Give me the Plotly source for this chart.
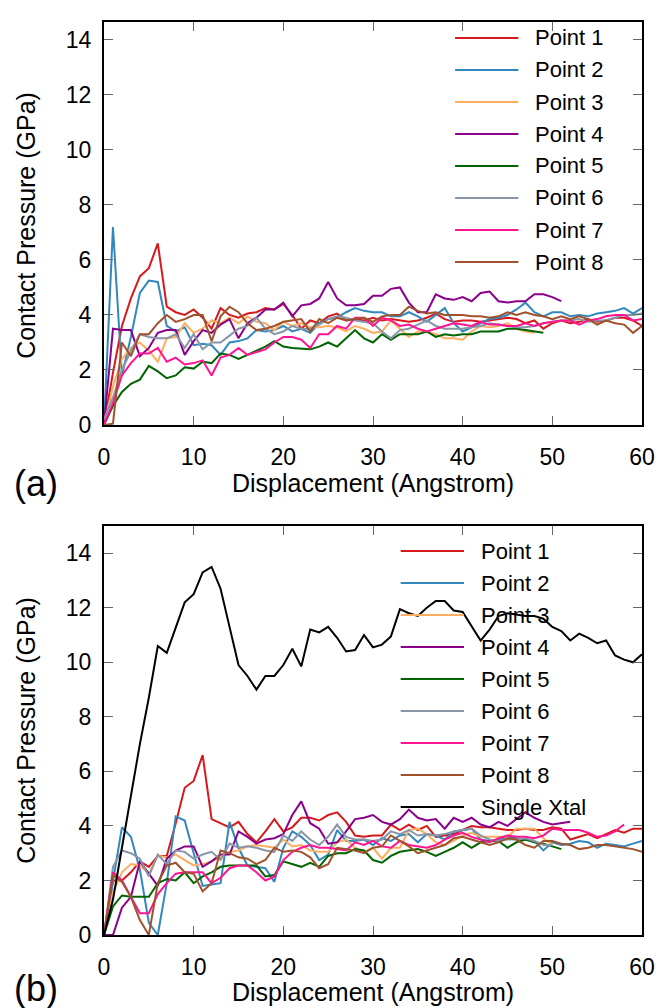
import plotly.graph_objects as go

FONT = "Liberation Sans, Arial, sans-serif"

DISPLACEMENT = list(range(61))
SERIES_NAMES = ["Point 1", "Point 2", "Point 3", "Point 4", "Point 5", "Point 6", "Point 7", "Point 8"]
XTAL_NAME = "Single Xtal"
COLORS = ["#d7191c", "#3288bd", "#fdae61", "#8b008b", "#006400", "#8896a8", "#ff1493", "#a0522d"]
XTAL_COLOR = "#000000"
X_TICKS = [0, 10, 20, 30, 40, 50, 60]
Y_TICKS = [0, 2, 4, 6, 8, 10, 12, 14]
X_TITLE = "Displacement (Angstrom)"
Y_TITLE = "Contact Pressure (GPa)"
PANEL_LABELS = ["(a)", "(b)"]

# ---- Panel (a) ----
A1 = [0, 1.9, 3.6, 4.6, 5.4, 5.7, 6.6, 4.3, 4.1, 4.0, 4.2, 3.9, 3.5, 4.25, 4.0, 3.9, 4.05, 4.1, 4.25, 4.2,
      4.4, 4.0, 3.5, 3.8, 3.7, 3.95, 4.05, 3.8, 3.85, 3.8, 3.9, 3.8, 3.85, 3.8, 3.75, 3.8, 3.9, 4.05, 3.85, 3.75,
      3.8, 3.8, 3.75, 3.8, 3.85, 3.9, 3.85, 3.7, 3.8, 3.5, 3.7, 3.8, 3.7, 3.75, 3.85, 3.75, 3.8, 3.9, 3.9, 3.8, 3.6]
A2 = [0, 7.2, 1.8, 3.2, 4.8, 5.25, 5.2, 3.6, 3.4, 3.55, 2.9, 2.95, 2.9, 2.55, 3.0, 3.05, 3.15, 3.45, 3.4, 3.45,
      3.6, 3.4, 3.5, 3.35, 3.7, 3.85, 3.9, 4.1, 4.25, 4.15, 4.1, 4.1, 3.95, 3.95, 4.1, 3.95, 3.75, 4.0, 4.25, 3.7,
      3.4, 3.55, 3.7, 3.85, 3.9, 4.0, 4.2, 4.45, 4.1, 3.95, 4.1, 4.1, 3.95, 4.0, 3.95, 4.05, 4.1, 4.15, 4.25, 4.05, 4.25]
A3 = [0, 1.4, 2.4, 2.8, 3.0, 2.7, 2.3, 3.15, 3.2, 3.7, 3.35, 3.5, 3.8, 3.7, 3.9, 3.7, 3.95, 3.75, 3.7, 3.45,
      3.75, 3.6, 3.7, 3.55, 3.55, 3.6, 3.55, 3.4, 3.6, 3.5, 3.35, 3.4, 3.8, 3.5, 3.2, 3.4, 3.4, 3.3, 3.15, 3.15,
      3.1, 3.4, 3.6, 3.55, 3.6, 3.7, 3.5, 3.4, 3.35]
A4 = [0, 3.5, 3.45, 3.45, 2.5, 2.8, 3.35, 3.45, 3.45, 2.55, 3.05, 3.45, 3.35, 3.65, 3.85, 3.15, 3.7, 3.9, 4.2, 4.2,
      4.45, 3.95, 4.35, 4.4, 4.6, 5.2, 4.6, 4.35, 4.35, 4.4, 4.7, 4.7, 4.95, 5.0, 4.45, 4.1, 4.1, 4.75, 4.6, 4.55,
      4.65, 4.5, 4.8, 4.85, 4.5, 4.45, 4.5, 4.5, 4.75, 4.75, 4.65, 4.5]
A5 = [0, 0.7, 1.2, 1.5, 1.65, 2.15, 1.95, 1.7, 1.8, 2.1, 2.05, 2.3, 2.25, 2.6, 2.55, 2.4, 2.55, 2.7, 2.85, 3.05,
      2.85, 2.8, 2.78, 2.75, 2.85, 3.0, 2.85, 3.15, 3.45, 3.15, 3.0, 3.3, 3.1, 3.3, 3.3, 3.3, 3.4, 3.2, 3.3, 3.25,
      3.3, 3.3, 3.4, 3.4, 3.4, 3.5, 3.5, 3.45, 3.4, 3.35]
A6 = [0.2, 1.0, 2.0, 2.7, 3.3, 3.2, 3.15, 3.15, 3.3, 2.8, 3.3, 2.75, 3.0, 3.0, 3.25, 3.5, 3.6, 3.9, 3.5, 3.3,
      3.4, 3.6, 3.5, 3.5, 3.65, 3.85, 3.95, 3.9, 3.8, 3.75, 3.7, 3.4, 3.15, 3.45, 3.5, 3.65, 3.8, 3.6, 3.5, 3.5,
      3.5, 3.55, 3.6, 3.7, 3.65, 3.6, 3.55, 3.55, 3.6, 3.7, 3.75, 3.8, 3.8, 3.85, 3.75, 3.8, 3.8, 3.9, 4.0, 4.0, 4.05]
A7 = [0, 0.8, 1.8, 2.25, 2.6, 2.6, 2.8, 2.3, 2.45, 2.2, 2.25, 2.35, 1.8, 2.45, 2.55, 2.8, 2.55, 2.65, 2.75, 3.0,
      3.2, 3.2, 3.1, 2.8, 3.3, 3.3, 3.6, 3.5, 3.9, 3.9, 3.6, 3.9, 3.8, 3.6, 3.65, 3.5, 3.4, 3.5, 3.6, 3.7,
      3.65, 3.6, 3.75, 3.65, 3.65, 3.6, 3.6, 3.7, 3.6, 3.7, 3.75, 3.8, 3.8, 3.65, 3.8, 3.85, 3.95, 4.0, 4.0, 3.8, 3.85]
A8 = [0, 0.05, 3.0, 2.5, 3.3, 3.3, 3.7, 4.0, 3.75, 3.85, 4.0, 4.0, 3.05, 3.95, 4.3, 4.1, 3.7, 3.45, 3.5, 3.6,
      3.75, 3.8, 3.85, 3.4, 3.85, 3.7, 3.9, 3.8, 3.85, 3.9, 3.75, 3.95, 4.0, 4.0, 4.3, 4.15, 4.05, 4.1, 4.0, 4.0,
      4.0, 3.95, 3.95, 3.9, 3.95, 4.1, 4.0, 4.1, 4.0, 3.95, 3.85, 3.95, 3.85, 3.95, 3.85, 3.65, 3.8, 3.7, 3.65, 3.35, 3.6]

# ---- Panel (b) ----
B1 = [0, 2.0, 2.0, 2.3, 2.7, 2.5, 2.9, 2.9, 4.1, 5.4, 5.65, 6.6, 4.25, 4.1, 3.95, 4.15, 3.7, 3.4, 3.8, 4.25,
      3.8, 3.95, 4.3, 4.3, 4.2, 4.4, 4.5, 4.15, 3.65, 3.6, 3.65, 3.65, 4.05, 3.85, 4.05, 3.85, 4.0, 3.6, 3.65, 3.7,
      3.85, 4.0, 3.95, 3.95, 3.9, 3.85, 3.85, 3.9, 3.85, 3.85, 3.95, 3.9, 3.5, 3.6, 3.7, 3.55, 3.7, 3.85, 3.75, 3.9, 3.9]
B2 = [0, 2.0, 3.95, 3.6, 2.4, 0.45, 0.0, 1.9, 4.35, 4.2, 3.0, 1.8, 1.85, 1.9, 4.15, 3.2, 2.55, 2.5, 2.45, 1.95,
      3.2, 3.8, 3.6, 3.3, 2.75, 2.95, 3.85, 3.45, 3.45, 3.5, 3.3, 3.55, 3.45, 3.65, 3.7, 3.4, 3.7, 3.65, 3.5, 3.8,
      3.85, 3.9, 3.5, 3.45, 3.5, 3.6, 3.55, 3.5, 3.45, 3.1, 3.4, 3.3, 3.35, 3.45, 3.4, 3.2, 3.35, 3.3, 3.25, 3.35, 3.45]
B3 = [0, 1.55, 2.3, 2.6, 2.55, 2.25, 2.9, 2.85, 2.95, 2.75, 2.55, 2.6, 2.7, 2.85, 3.05, 3.1, 3.25, 3.3, 3.25, 3.2,
      3.5, 3.25, 3.3, 3.1, 3.05, 3.05, 3.4, 3.5, 3.2, 3.05, 3.2, 2.8, 3.2, 3.2, 3.85, 3.9, 3.7, 3.4, 3.3, 3.45,
      3.65, 3.75, 3.6, 3.6, 3.6, 3.6, 3.9, 3.9, 3.9, 3.55, 3.3]
B4 = [0, 0, 1.0, 1.4, 2.7, 2.25, 1.8, 2.8, 3.1, 3.25, 3.25, 2.5, 2.7, 2.95, 2.95, 3.8, 3.6, 3.35, 3.5, 3.55,
      3.7, 4.4, 4.9, 4.1, 3.9, 3.35, 3.4, 3.8, 4.25, 4.3, 4.4, 4.15, 4.05, 4.25, 4.6, 4.3, 4.2, 4.25, 3.9, 4.3,
      4.15, 4.3, 4.05, 3.95, 4.15, 4.0, 4.25, 4.5, 4.3, 4.15, 4.05, 4.1, 4.15]
B5 = [0, 1.05, 1.45, 1.4, 1.4, 1.4, 1.9, 2.05, 2.0, 2.3, 1.9, 2.15, 2.3, 2.5, 2.55, 2.55, 2.55, 2.55, 2.15, 2.2,
      2.7, 2.6, 2.5, 2.65, 2.5, 2.9, 3.0, 3.0, 3.15, 3.1, 2.75, 2.65, 2.9, 3.05, 3.1, 3.15, 3.05, 2.9, 3.05, 3.2,
      3.4, 3.2, 3.4, 3.45, 3.45, 3.2, 3.4, 3.5, 3.4, 3.35, 3.25, 3.15]
B6 = [0, 2.5, 3.1, 3.0, 2.8, 2.15, 2.95, 2.6, 3.1, 3.05, 2.8, 2.95, 3.05, 2.75, 3.35, 3.2, 3.25, 3.2, 3.1, 3.05,
      3.65, 3.45, 3.8, 3.5, 3.3, 3.6, 4.05, 3.6, 3.5, 3.5, 3.45, 3.5, 3.8, 3.7, 3.85, 3.65, 3.7, 3.65, 3.7, 3.8,
      3.85, 3.9, 3.65, 3.5, 3.45, 3.5, 3.5, 3.55, 3.45, 3.3, 3.3]
B7 = [0, 2.3, 2.0, 1.4, 0.8, 0.8, 1.5, 1.9, 2.25, 2.3, 2.3, 2.3, 1.9, 2.1, 2.45, 2.55, 2.55, 2.3, 2.0, 2.15,
      2.75, 3.05, 3.2, 3.3, 3.2, 3.2, 3.15, 3.1, 3.4, 3.3, 3.45, 3.25, 3.2, 3.45, 3.3, 3.25, 3.2, 3.3, 3.5, 3.65,
      3.75, 3.6, 3.5, 3.4, 3.55, 3.65, 3.6, 3.6, 3.55, 3.65, 3.9, 3.85, 3.85, 3.85, 3.75, 3.6, 3.65, 3.8, 4.05]
B8 = [0, 2.2, 1.95, 1.4, 0.55, 0.0, 1.9, 2.55, 2.65, 2.3, 2.25, 1.6, 1.9, 3.1, 3.0, 2.85, 2.8, 2.6, 2.75, 3.2,
      3.05, 3.1, 3.05, 2.85, 2.45, 2.6, 3.2, 3.15, 3.1, 3.0, 3.2, 3.25, 3.65, 3.45, 3.25, 3.0, 3.1, 3.2, 3.3, 3.55,
      3.6, 3.5, 3.4, 3.3, 3.4, 3.55, 3.5, 3.3, 3.2, 3.45, 3.45, 3.35, 3.3, 3.15, 3.2, 3.3, 3.3, 3.25, 3.2, 3.15, 3.05]
B9 = [0, 1.3, 3.2, 5.1, 7.0, 8.7, 10.6, 10.35, 11.3, 12.2, 12.5, 13.3, 13.5, 12.7, 11.3, 9.9, 9.5, 9.0, 9.5, 9.5,
      9.9, 10.5, 9.85, 11.2, 11.1, 11.3, 10.9, 10.4, 10.45, 11.0, 10.55, 10.65, 10.95, 11.95, 11.8, 11.7, 12.0, 12.25, 12.25, 11.9,
      11.85, 11.3, 10.8, 11.2, 11.7, 11.8, 11.75, 11.7, 11.7, 11.6, 11.3, 11.15, 10.8, 11.05, 10.9, 10.7, 10.8, 10.25, 10.1, 10.0, 10.3]

PANEL_A = [A1, A2, A3, A4, A5, A6, A7, A8]
PANEL_B = [B1, B2, B3, B4, B5, B6, B7, B8]

# ---- layout geometry (page pixels; body margin removed via post_script) ----
W, H = 667, 1008
ML, MR, MT, MB = 104, 19, 22, 73
PW, PH = W - ML - MR, H - MT - MB


def px_x(px):
    return (px - ML) / PW


def px_y(py):
    return 1 - (py - MT) / PH


fig = go.Figure()

for vals, name, color in zip(PANEL_A, SERIES_NAMES, COLORS):
    fig.add_trace(go.Scatter(x=DISPLACEMENT[:len(vals)], y=vals, mode="lines", name=name,
                             line=dict(color=color, width=2), xaxis="x", yaxis="y", showlegend=False))
for vals, name, color in zip(PANEL_B, SERIES_NAMES, COLORS):
    fig.add_trace(go.Scatter(x=DISPLACEMENT[:len(vals)], y=vals, mode="lines", name=name,
                             line=dict(color=color, width=2), xaxis="x2", yaxis="y2", showlegend=False))
fig.add_trace(go.Scatter(x=DISPLACEMENT[:len(B9)], y=B9, mode="lines", name=XTAL_NAME,
                         line=dict(color=XTAL_COLOR, width=2), xaxis="x2", yaxis="y2", showlegend=False))

axis_common = dict(
    showgrid=False, zeroline=False, showline=True, linecolor="black", linewidth=2,
    mirror="ticks", ticks="inside", ticklen=9, tickwidth=1, tickcolor="#666666",
    tickfont=dict(family=FONT, size=23, color="black"),
)

dom_a = [px_y(425), 1.0]
dom_b = [0.0, px_y(526)]

fig.update_layout(
    width=W, height=H, margin=dict(l=ML, r=MR, t=MT, b=MB),
    paper_bgcolor="white", plot_bgcolor="white",
    font=dict(family=FONT, size=22, color="black"),
    xaxis=dict(axis_common, range=[0, 60], tickvals=X_TICKS, anchor="y", ticklabelstandoff=10),
    yaxis=dict(axis_common, range=[0, 14.65], tickvals=Y_TICKS, domain=dom_a, anchor="x", ticklabelstandoff=6),
    xaxis2=dict(axis_common, range=[0, 60], tickvals=X_TICKS, anchor="y2", ticklabelstandoff=10),
    yaxis2=dict(axis_common, range=[0, 15], tickvals=Y_TICKS, domain=dom_b, anchor="x2", ticklabelstandoff=6),
    showlegend=False,
)

annotations = []
shapes = []

# axis titles and panel labels (page pixel positions)
for label, y_title_px, x_title_px, panel_px in [(PANEL_LABELS[0], 225, 483, 483), (PANEL_LABELS[1], 730, 992, 988)]:
    annotations.append(dict(text=Y_TITLE, x=px_x(25), y=px_y(y_title_px), xref="paper", yref="paper",
                            textangle=-90, showarrow=False, xanchor="center", yanchor="middle",
                            font=dict(family=FONT, size=25, color="black")))
    annotations.append(dict(text=X_TITLE, x=px_x(376), y=px_y(x_title_px), xref="paper", yref="paper",
                            showarrow=False, xanchor="center", yanchor="middle",
                            font=dict(family=FONT, size=25, color="black")))
    annotations.append(dict(text=label, x=px_x(35), y=px_y(panel_px), xref="paper", yref="paper",
                            showarrow=False, xanchor="center", yanchor="middle",
                            font=dict(family=FONT, size=36, color="black")))

# legends (drawn as line samples + text)
legend_specs = [
    (list(zip(SERIES_NAMES, COLORS)), 459, 523, 538, 38),
    (list(zip(SERIES_NAMES + [XTAL_NAME], COLORS + [XTAL_COLOR])), 404, 468, 483, 551),
]
for entries, lx0, lx1, tx, y0 in legend_specs:
    for i, (name, color) in enumerate(entries):
        py = y0 + 32 * i
        shapes.append(dict(type="line", xref="paper", yref="paper", x0=px_x(lx0), x1=px_x(lx1),
                           y0=px_y(py), y1=px_y(py), line=dict(color=color, width=2)))
        annotations.append(dict(text=name, x=px_x(tx), y=px_y(py), xref="paper", yref="paper",
                                showarrow=False, xanchor="left", yanchor="middle",
                                font=dict(family=FONT, size=22, color="black")))

fig.update_layout(annotations=annotations, shapes=shapes)

fig.write_html(
    "out.html",
    config={"displayModeBar": False},
    post_script="document.body.style.margin='0';document.body.style.overflow='hidden';",
)
